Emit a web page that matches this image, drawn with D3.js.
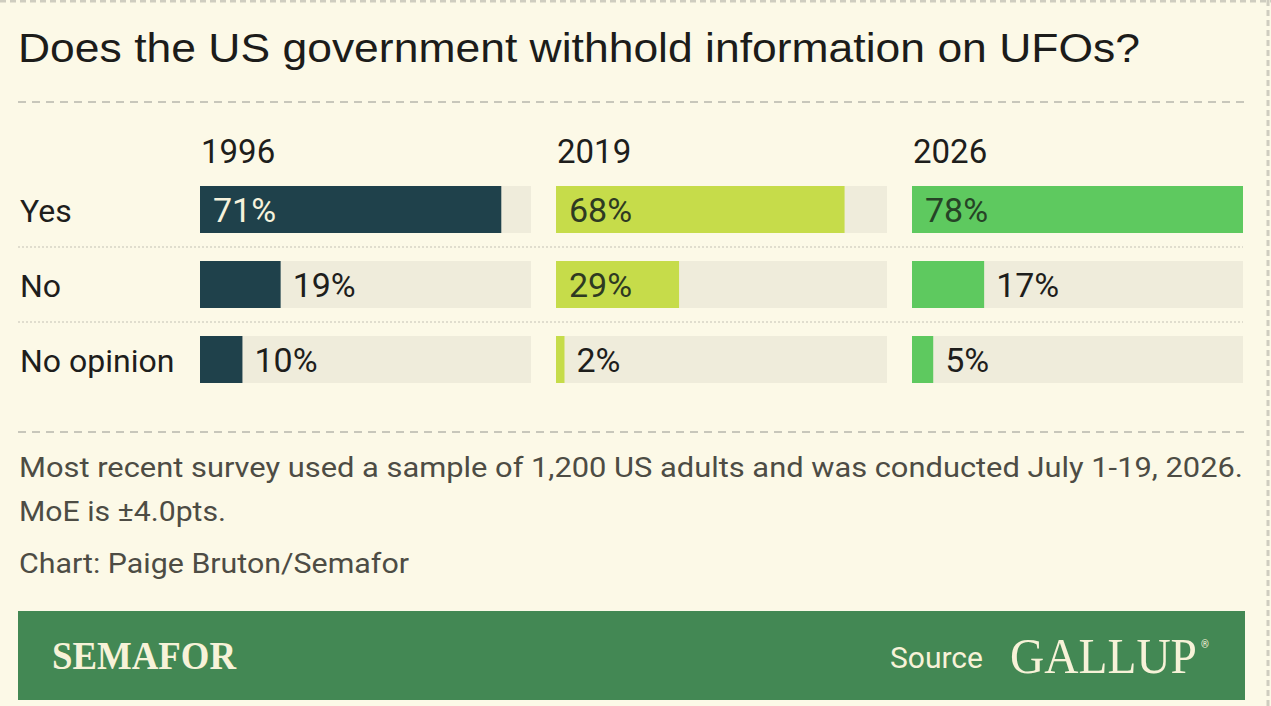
<!DOCTYPE html>
<html>
<head>
<meta charset="utf-8">
<script src="https://cdn.jsdelivr.net/npm/d3@7"></script>
<style>
  html, body { margin: 0; padding: 0; background: #fcf9e7; }
  svg { display: block; }
</style>
</head>
<body>
<svg id="chart" width="1271" height="706"></svg>
<script>
// ---- data ----
const years = ["1996", "2019", "2026"];
const answers = ["Yes", "No", "No opinion"];
const values1996 = [71, 19, 10];
const values2019 = [68, 29, 2];
const values2026 = [78, 17, 5];
const seriesValues = [values1996, values2019, values2026];
const colors = ["#1f414b", "#c6dc4a", "#5ec95f"];
const insideText = ["#f6f2dc", "#2e3a22", "#264326"];
const title = "Does the US government withhold information on UFOs?";
const notes = ["Most recent survey used a sample of 1,200 US adults and was conducted July 1-19, 2026.", "MoE is \u00b14.0pts."];
const credit = "Chart: Paige Bruton/Semafor";

const W = 1271, H = 706;
const svg = d3.select("#chart");
svg.append("rect").attr("width", W).attr("height", H).attr("fill", "#fcf9e7");

// borders
svg.append("line").attr("x1", 0).attr("x2", W).attr("y1", 1).attr("y2", 1)
  .attr("stroke", "#cfcdc0").attr("stroke-width", 3).attr("stroke-dasharray", "6,4");
svg.append("line").attr("x1", 1268).attr("x2", 1268).attr("y1", 0).attr("y2", H)
  .attr("stroke", "#cfcdc0").attr("stroke-width", 3).attr("stroke-dasharray", "6,4");

const sans = "Roboto, 'Noto Sans', sans-serif";

// title
svg.append("text").attr("x", 18).attr("y", 62)
  .attr("font-family", "'Liberation Sans', Arial, sans-serif").attr("font-size", 41)
  .attr("fill", "#1c1c1a").attr("textLength", 1122).attr("lengthAdjust", "spacingAndGlyphs")
  .text(title);

function dashed(y) {
  svg.append("line").attr("x1", 18).attr("x2", 1245).attr("y1", y).attr("y2", y)
    .attr("stroke", "#c8c7bb").attr("stroke-width", 2).attr("stroke-dasharray", "8,6");
}
dashed(102);
dashed(432);

// scales
const colScale = d3.scaleBand().domain(years).range([200, 1243]).paddingInner(25 / 356);
const rowScale = d3.scaleBand().domain(answers).range([186, 383]).paddingInner(28 / 75);
const maxV = d3.max(seriesValues.flat());
const x = d3.scaleLinear().domain([0, maxV]).range([0, colScale.bandwidth()]);
const bh = rowScale.bandwidth();

// row separators
answers.slice(1).forEach(a => {
  const y = rowScale(a) - (rowScale.step() - bh) / 2;
  svg.append("line").attr("x1", 18).attr("x2", 1243).attr("y1", y).attr("y2", y)
    .attr("stroke", "#d6d4c6").attr("stroke-width", 1.5).attr("stroke-dasharray", "2,2");
});

// row labels
svg.selectAll(".rowlab").data(answers).join("text")
  .attr("class", "rowlab")
  .attr("x", 20).attr("y", d => rowScale(d) + bh / 2 + 12)
  .attr("font-family", sans).attr("font-size", 32).attr("fill", "#1e1e1c")
  .text(d => d);

// column headers
svg.selectAll(".colhead").data(years).join("text")
  .attr("class", "colhead")
  .attr("x", d => colScale(d) + 1).attr("y", 163)
  .attr("font-family", sans).attr("font-size", 33).attr("fill", "#1e1e1c")
  .text(d => d);

// bars
years.forEach((yr, ci) => {
  const g = svg.append("g").attr("transform", `translate(${colScale(yr)},0)`);
  const data = answers.map((a, i) => ({ a, v: seriesValues[ci][i] }));
  g.selectAll(".track").data(data).join("rect")
    .attr("x", 0).attr("y", d => rowScale(d.a))
    .attr("width", colScale.bandwidth()).attr("height", bh)
    .attr("fill", "#efecdb");
  g.selectAll(".bar").data(data).join("rect")
    .attr("x", 0).attr("y", d => rowScale(d.a))
    .attr("width", d => x(d.v)).attr("height", bh)
    .attr("fill", colors[ci]);
  g.selectAll(".lab").data(data).join("text")
    .attr("x", d => d.v >= 25 ? 13 : x(d.v) + 12)
    .attr("y", d => rowScale(d.a) + bh / 2 + 12)
    .attr("font-family", sans).attr("font-size", 34)
    .attr("fill", d => d.v >= 25 ? insideText[ci] : "#1e1e1c")
    .text(d => d.v + "%");
});

// notes
const noteLens = [1224, 207];
notes.forEach((t, i) => {
  svg.append("text").attr("x", 19).attr("y", 477 + i * 44)
    .attr("font-family", sans).attr("font-size", 27).attr("fill", "#4d4c44")
    .attr("textLength", noteLens[i]).attr("lengthAdjust", "spacingAndGlyphs")
    .text(t);
});
svg.append("text").attr("x", 19).attr("y", 573)
  .attr("font-family", sans).attr("font-size", 27).attr("fill", "#4d4c44")
  .attr("textLength", 390).attr("lengthAdjust", "spacingAndGlyphs")
  .text(credit);

// footer band
svg.append("rect").attr("x", 18).attr("y", 611).attr("width", 1227).attr("height", 89)
  .attr("fill", "#438854");
svg.append("text").attr("x", 52).attr("y", 669)
  .attr("font-family", "'Liberation Serif', 'DejaVu Serif', serif").attr("font-weight", "bold")
  .attr("font-size", 40).attr("fill", "#f7f2d8")
  .attr("textLength", 184).attr("lengthAdjust", "spacingAndGlyphs")
  .text("SEMAFOR");
svg.append("text").attr("x", 890).attr("y", 668)
  .attr("font-family", sans).attr("font-size", 29).attr("fill", "#f7f2d8")
  .attr("textLength", 93).attr("lengthAdjust", "spacingAndGlyphs")
  .text("Source");
const gGallup = svg.append("g");
const gallup = gGallup.append("text").attr("x", 0).attr("y", 0)
  .attr("font-family", "'Liberation Serif', 'DejaVu Serif', serif")
  .attr("font-size", 50).attr("fill", "#f7f2d8")
  .text("GALLUP");
const natW = gallup.node().getComputedTextLength() || 200;
gGallup.attr("transform", `translate(1010,673) scale(${187 / natW},1)`);
svg.append("text").attr("x", 1201).attr("y", 648)
  .attr("font-family", sans).attr("font-size", 10).attr("fill", "#f7f2d8")
  .text("\u00ae");
</script>
</body>
</html>
